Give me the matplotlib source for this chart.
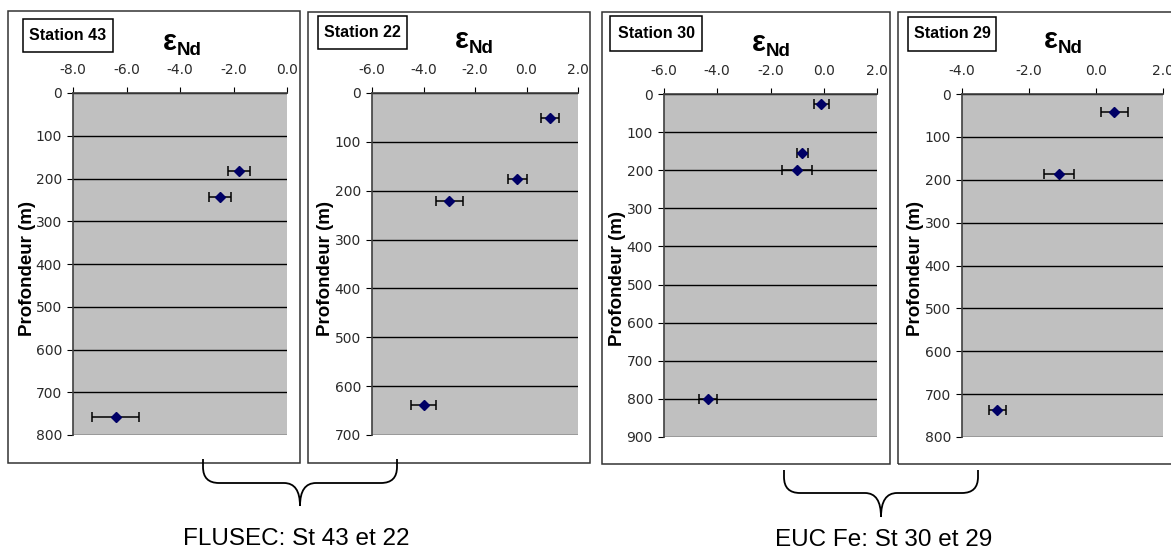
import numpy as np
import matplotlib
matplotlib.use('Agg')
import matplotlib.pyplot as plt
from matplotlib.patches import Rectangle, PathPatch
from matplotlib.path import Path

plt.rcParams['font.family'] = ['Liberation Sans', 'DejaVu Sans']

# donnees (eps Nd, profondeur m, erreur 2 sigma)
stations = ['Station 43', 'Station 22', 'Station 30', 'Station 29']
eps_43 = [-1.8, -2.5, -6.4]
depth_43 = [182, 243, 758]
err_43 = [0.4, 0.42, 0.88]
eps_22 = [0.9, -0.35, -3.0, -4.0]
depth_22 = [52, 175, 222, 638]
err_22 = [0.35, 0.35, 0.52, 0.47]
eps_30 = [-0.1, -0.8, -1.0, -4.35]
depth_30 = [25, 155, 200, 800]
err_30 = [0.28, 0.22, 0.57, 0.35]
eps_29 = [0.55, -1.1, -2.95]
depth_29 = [42, 187, 738]
err_29 = [0.4, 0.45, 0.25]

xlims = [(-8, 0), (-6, 2), (-6, 2), (-4, 2)]
ymaxs = [800, 700, 900, 800]
groups = ['FLUSEC: St 43 et 22', 'EUC Fe: St 30 et 29']

data = [(eps_43, depth_43, err_43), (eps_22, depth_22, err_22),
        (eps_30, depth_30, err_30), (eps_29, depth_29, err_29)]

W, H = 1171, 549
fig = plt.figure(figsize=(W / 100, H / 100), dpi=100)

# positions en pixels (gauche, haut, droite, bas)
plot_boxes = [(73, 93, 287, 435), (372, 93, 578, 435), (664, 94, 877, 437), (962, 94, 1163, 437)]
frames = [(8, 11, 300, 463), (308, 12, 590, 463), (602, 12, 890, 464), (898, 12, 1178, 464)]
name_boxes = [(23, 19, 113, 52), (318, 16, 407, 49), (610, 16, 702, 51), (908, 17, 996, 51)]
eps_pos = [(177, 50), (469, 48), (766, 51), (1058, 48)]
ylab_pos = [(28, 269), (326, 269), (618, 278), (916, 269)]


def fbox(x0, y0, x1, y1):
    return [x0 / W, 1 - y1 / H, (x1 - x0) / W, (y1 - y0) / H]


def fp(x, y):
    return (x / W, 1 - y / H)


for i in range(4):
    # cadre du graphique
    fr = fbox(*frames[i])
    fig.patches.append(Rectangle((fr[0], fr[1]), fr[2], fr[3], transform=fig.transFigure,
                                 fill=False, edgecolor='#333333', lw=1.1))

    ax = fig.add_axes(fbox(*plot_boxes[i]))
    ax.set_facecolor('#c0c0c0')
    eps, depth, err = data[i]
    ax.errorbar(eps, depth, xerr=err, fmt='D', color='#000066', ms=5.5,
                ecolor='black', elinewidth=1.1, capsize=3.5, capthick=1.1, zorder=5)
    ax.set_xlim(*xlims[i])
    ax.set_ylim(ymaxs[i], 0)
    ax.set_xticks(np.arange(xlims[i][0], xlims[i][1] + 0.1, 2))
    ax.set_xticklabels(['%.1f' % v for v in np.arange(xlims[i][0], xlims[i][1] + 0.1, 2)])
    ax.set_yticks(np.arange(0, ymaxs[i] + 1, 100))
    ax.xaxis.tick_top()
    ax.tick_params(axis='x', direction='out', length=4, pad=7.5, labelsize=10,
                   labelcolor='#2a2a2a', labelfontfamily='DejaVu Sans')
    ax.tick_params(axis='y', direction='out', length=4, pad=4, labelsize=10,
                   labelcolor='#2a2a2a', labelfontfamily='DejaVu Sans')
    ax.yaxis.grid(True, color='black', lw=1)
    ax.set_axisbelow(True)
    for s in ['right', 'bottom']:
        ax.spines[s].set_visible(False)
    for s in ['left', 'top']:
        ax.spines[s].set_color('#404040')
        ax.spines[s].set_linewidth(1.2)

    # etiquette de station
    nb = fbox(*name_boxes[i])
    fig.patches.append(Rectangle((nb[0], nb[1]), nb[2], nb[3], transform=fig.transFigure,
                                 fill=False, edgecolor='black', lw=1.1))
    fig.text(nb[0] + nb[2] / 2, nb[1] + nb[3] / 2, stations[i], ha='center', va='center',
             fontsize=11.5, fontweight='bold')

    # titre eps Nd
    ex, ey = eps_pos[i]
    fig.text(*fp(ex, ey), 'ε', ha='right', va='baseline', fontsize=21, fontweight='bold')
    fig.text(*fp(ex, ey + 5), 'Nd', ha='left', va='baseline', fontsize=13.5, fontweight='bold')

    fig.text(*fp(*ylab_pos[i]), 'Profondeur (m)', rotation=90, ha='center', va='center',
             fontsize=13.5, fontweight='bold')


def brace(xl, xr, xm, ytop, yh, ytip):
    r = 16
    pts = [(xl, ytop), (xl, yh - r), (xl, yh), (xl + r, yh), (xm - r, yh), (xm, yh), (xm, ytip),
           (xm, yh), (xm + r, yh), (xr - r, yh), (xr, yh), (xr, yh - r), (xr, ytop)]
    codes = [Path.MOVETO, Path.LINETO, Path.CURVE3, Path.CURVE3, Path.LINETO, Path.CURVE3, Path.CURVE3,
             Path.CURVE3, Path.CURVE3, Path.LINETO, Path.CURVE3, Path.CURVE3, Path.LINETO]
    path = Path([fp(x, y) for x, y in pts], codes)
    fig.patches.append(PathPatch(path, transform=fig.transFigure, fill=False,
                                 edgecolor='black', lw=1.3))


brace(203, 397, 300, 459, 483, 506)
brace(784, 978, 881, 470, 493, 517)

fig.text(*fp(296, 539), groups[0], ha='center', va='center', fontsize=17.5)
fig.text(*fp(884, 540), groups[1], ha='center', va='center', fontsize=17.5)

fig.savefig('out.png', dpi=100)
